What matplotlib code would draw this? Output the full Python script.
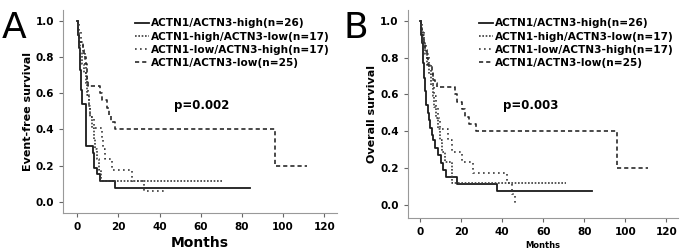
import matplotlib
matplotlib.use("Agg")
import matplotlib.pyplot as plt

labels = ["ACTN1/ACTN3-high(n=26)", "ACTN1-high/ACTN3-low(n=17)",
          "ACTN1-low/ACTN3-high(n=17)", "ACTN1/ACTN3-low(n=25)"]

# Panel A: event-free survival (months, survival)
efs_high_t = [0, 0.3, 0.5, 0.7, 0.9, 1.1, 1.3, 1.5, 1.7, 2.0, 2.4, 4.2, 7.8, 8.0, 8.3, 9.4, 11.0, 18.3, 84]
efs_high_s = [1.0, 0.96, 0.92, 0.88, 0.85, 0.81, 0.77, 0.73, 0.69, 0.62, 0.54, 0.31, 0.27, 0.23, 0.19, 0.154, 0.115, 0.077, 0.077]
efs_hl_t = [0, 0.3, 0.8, 1.5, 2.5, 3.3, 4.0, 4.8, 5.5, 6.0, 7.0, 8.0, 8.5, 9.5, 10.5, 11.5, 71]
efs_hl_s = [1.0, 0.94, 0.88, 0.82, 0.76, 0.71, 0.65, 0.59, 0.53, 0.47, 0.41, 0.35, 0.29, 0.235, 0.176, 0.118, 0.118]
efs_lh_t = [0, 1.0, 2.0, 3.0, 3.5, 4.0, 4.5, 5.0, 5.5, 6.2, 8.0, 11.8, 12.5, 13.5, 16.7, 26.4, 32.6, 42]
efs_lh_s = [1.0, 0.94, 0.88, 0.82, 0.76, 0.71, 0.65, 0.59, 0.53, 0.47, 0.41, 0.35, 0.29, 0.235, 0.176, 0.118, 0.059, 0.059]
efs_low_t = [0, 0.5, 1.0, 2.6, 3.2, 4.2, 4.5, 4.8, 5.2, 11.0, 12.0, 14.3, 15.5, 16.5, 18.3, 96, 111.5]
efs_low_s = [1.0, 0.92, 0.88, 0.84, 0.80, 0.76, 0.72, 0.68, 0.64, 0.60, 0.56, 0.52, 0.48, 0.44, 0.40, 0.20, 0.20]

# Panel B: overall survival
os_high_t = [0, 0.3, 0.6, 0.9, 1.2, 1.5, 1.8, 2.2, 2.8, 4.0, 4.4, 5.0, 5.6, 6.4, 7.2, 8.5, 10.1, 11.2, 12.5, 18.0, 37.3, 84]
os_high_s = [1.0, 0.96, 0.92, 0.88, 0.81, 0.77, 0.69, 0.62, 0.54, 0.50, 0.46, 0.42, 0.38, 0.35, 0.31, 0.27, 0.23, 0.19, 0.154, 0.115, 0.077, 0.077]
os_hl_t = [0, 0.5, 1.5, 2.5, 3.5, 4.5, 5.5, 6.2, 7.0, 7.5, 8.5, 9.5, 10.5, 12.0, 15.5, 71]
os_hl_s = [1.0, 0.94, 0.88, 0.82, 0.76, 0.71, 0.65, 0.59, 0.53, 0.47, 0.41, 0.35, 0.29, 0.235, 0.118, 0.118]
os_lh_t = [0, 0.8, 2.0, 3.0, 4.5, 5.5, 6.2, 6.8, 7.5, 8.5, 9.5, 13.5, 15.3, 20.6, 25.9, 42.2, 44.7, 46.5]
os_lh_s = [1.0, 0.94, 0.88, 0.82, 0.76, 0.71, 0.65, 0.59, 0.53, 0.47, 0.41, 0.35, 0.29, 0.235, 0.176, 0.118, 0.059, 0.0]
os_low_t = [0, 0.3, 0.8, 2.0, 2.5, 3.5, 4.0, 5.9, 6.5, 7.2, 8.0, 17.0, 18.0, 20.3, 22.0, 24.0, 27.0, 96, 111]
os_low_s = [1.0, 0.96, 0.92, 0.88, 0.84, 0.80, 0.76, 0.72, 0.68, 0.66, 0.64, 0.60, 0.56, 0.52, 0.48, 0.44, 0.40, 0.20, 0.20]

styles = [dict(ls='-', lw=1.3, color='#1a1a1a'),
          dict(ls=(0, (1, 1)), lw=1.2, color='#3a3a3a'),
          dict(ls=(0, (1, 2)), lw=1.2, color='#3a3a3a'),
          dict(ls=(0, (2.5, 1.8)), lw=1.2, color='#2a2a2a')]

fig = plt.figure(figsize=(6.82, 2.5), dpi=100)
axA = fig.add_axes([0.0924, 0.148, 0.402, 0.812])
axB = fig.add_axes([0.598, 0.128, 0.396, 0.832])

panels = [
    (axA, [(efs_high_t, efs_high_s), (efs_hl_t, efs_hl_s), (efs_lh_t, efs_lh_s), (efs_low_t, efs_low_s)],
     "Event-free survival", "p=0.002", (-6.95, 126.3), (-0.061, 1.059), 10, (0.507, 0.532)),
    (axB, [(os_high_t, os_high_s), (os_hl_t, os_hl_s), (os_lh_t, os_lh_s), (os_low_t, os_low_s)],
     "Overall survival", "p=0.003", (-6.0, 125.7), (-0.0705, 1.058), 6, (0.456, 0.543)),
]

for ax, curves, ylab, ptxt, xl, yl, mfs, ppos in panels:
    for (t, s), st, lab in zip(curves, styles, labels):
        ax.step(t, s, where='post', label=lab, **st)
    ax.set_xlim(*xl)
    ax.set_ylim(*yl)
    ax.set_xticks(range(0, 121, 20))
    ax.set_yticks([0.0, 0.2, 0.4, 0.6, 0.8, 1.0])
    ax.set_yticklabels(["0.0", "0.2", "0.4", "0.6", "0.8", "1.0"])
    for s in ['top', 'right']:
        ax.spines[s].set_visible(False)
    for s in ['left', 'bottom']:
        ax.spines[s].set_color('#999999')
        ax.spines[s].set_linewidth(0.8)
    ax.tick_params(direction='out', length=3, width=0.8, color='#666666', labelsize=7.5)
    for lbl in ax.get_xticklabels() + ax.get_yticklabels():
        lbl.set_fontweight('bold')
    ax.set_ylabel(ylab, fontsize=8, fontweight='bold', labelpad=2)
    ax.set_xlabel("Months", fontsize=mfs, fontweight='bold', labelpad=3)
    ax.text(ppos[0], ppos[1], ptxt, transform=ax.transAxes, ha='center', va='center',
            fontsize=8.5, fontweight='bold')
    leg = ax.legend(loc='upper left', bbox_to_anchor=(0.24, 0.99), frameon=False,
                    fontsize=7.6, handlelength=1.3, handletextpad=0.2,
                    labelspacing=0.3, borderpad=0.1)
    for txt in leg.get_texts():
        txt.set_fontweight('bold')

fig.text(0.003, 0.955, "A", fontsize=26, va='top', ha='left')
fig.text(0.503, 0.955, "B", fontsize=26, va='top', ha='left')

fig.savefig("out.png", dpi=100)
